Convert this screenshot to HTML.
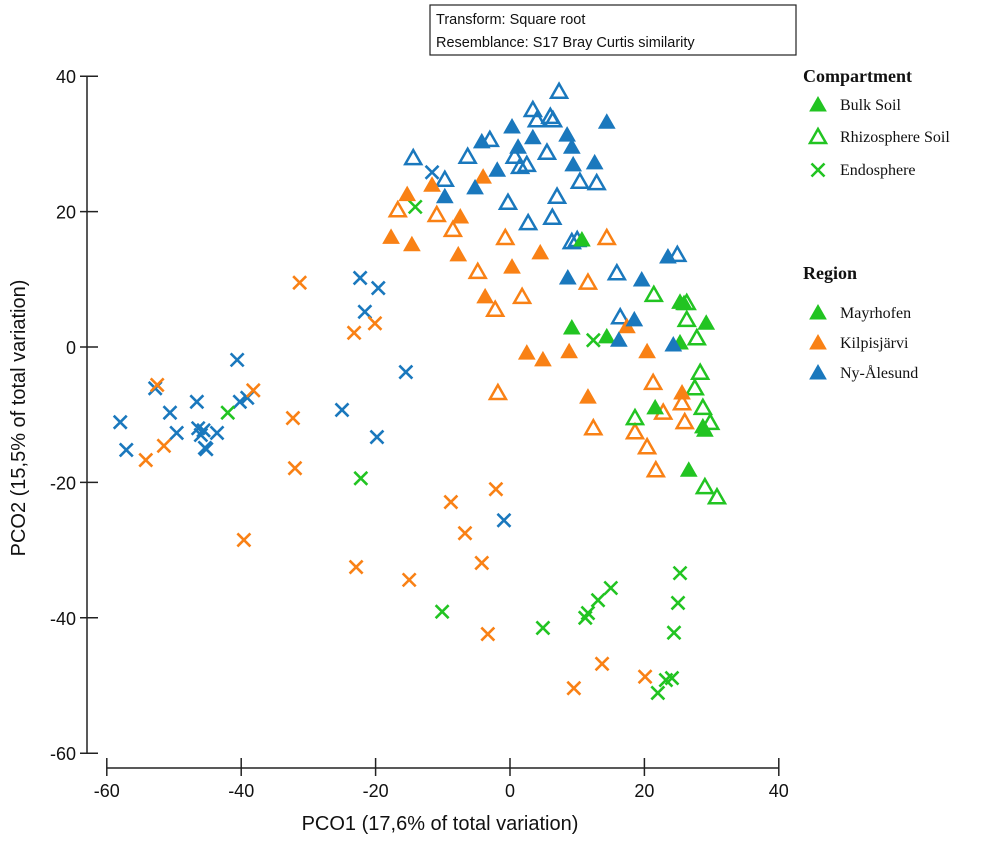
<!DOCTYPE html>
<html><head><meta charset="utf-8">
<style>
body{margin:0;background:#fff;}
svg{display:block;}
.tick{font-family:"Liberation Sans",sans-serif;font-size:18px;fill:#111;}
.leg{font-family:"Liberation Serif",serif;font-size:16px;fill:#111;}
.legh{font-family:"Liberation Serif",serif;font-size:18px;font-weight:bold;fill:#111;}
</style></head>
<body>
<svg id="chart" width="995" height="842" viewBox="0 0 995 842">
<g>
<rect x="430" y="5" width="366" height="50" fill="#fff" stroke="#222" stroke-width="1.2"/>
<text x="436" y="24" font-family="Liberation Sans, sans-serif" font-size="14.5" fill="#111">Transform: Square root</text>
<text x="436" y="47" font-family="Liberation Sans, sans-serif" font-size="14.5" fill="#111">Resemblance: S17 Bray Curtis similarity</text>
</g>
<g id="axes"></g>
<g id="marks"></g>
<text x="440" y="830" text-anchor="middle" font-family="Liberation Sans, sans-serif" font-size="20" fill="#111">PCO1 (17,6% of total variation)</text>
<text transform="translate(25,418) rotate(-90)" text-anchor="middle" font-family="Liberation Sans, sans-serif" font-size="20" fill="#111">PCO2 (15,5% of total variation)</text>
<g id="legend"></g>
</svg>
<script>
const xTicks=[-60,-40,-20,0,20,40];
const yTicks=[40,20,0,-20,-40,-60];
const blueFilled=[[0.3,32.5],[-4.2,30.3],[3.4,30.9],[1.2,29.5],[8.5,31.3],[9.2,29.5],[9.4,26.9],[12.6,27.2],[14.4,33.2],[-1.9,26.1],[-5.2,23.5],[-9.7,22.2],[23.5,13.3],[8.6,10.2],[19.6,9.9],[18.5,4.0],[16.2,1.0],[24.3,0.3]];
const blueOpen=[[7.3,37.7],[3.4,35.0],[6.0,34.0],[4.0,33.5],[6.4,33.5],[-3.0,30.6],[-14.4,27.9],[-6.3,28.1],[0.7,28.1],[2.5,26.9],[1.5,26.6],[5.5,28.7],[10.4,24.4],[12.9,24.2],[7.0,22.2],[-0.3,21.3],[2.7,18.3],[6.3,19.1],[9.2,15.5],[10.0,15.8],[24.9,13.6],[15.9,10.9],[-9.7,24.7],[16.4,4.4]];
const orangeFilled=[[-15.3,22.5],[-11.6,23.9],[-4.0,25.1],[-7.4,19.2],[-17.7,16.2],[-14.6,15.1],[-7.7,13.6],[0.3,11.8],[4.5,13.9],[-3.7,7.4],[2.5,-0.9],[4.9,-1.9],[8.8,-0.7],[20.4,-0.7],[11.6,-7.4],[25.6,-6.8],[17.4,3.0]];
const orangeOpen=[[-16.7,20.2],[-10.9,19.5],[-8.5,17.3],[-0.7,16.1],[14.4,16.1],[-4.8,11.1],[11.6,9.5],[1.8,7.4],[-2.2,5.5],[-1.8,-6.8],[21.3,-5.3],[25.6,-8.3],[22.8,-9.7],[26.0,-11.1],[12.4,-12.0],[18.6,-12.6],[20.4,-14.8],[21.7,-18.2]];
const greenFilled=[[9.2,2.8],[10.7,15.8],[25.3,6.6],[25.9,6.4],[29.2,3.5],[25.3,0.6],[21.6,-9.0],[28.7,-11.8],[29.0,-12.3],[26.6,-18.2],[14.4,1.5]];
const greenOpen=[[21.4,7.7],[26.3,4.0],[27.8,1.3],[28.3,-3.8],[27.5,-6.1],[28.7,-9.0],[29.8,-11.2],[18.6,-10.5],[29.0,-20.7],[30.8,-22.2],[26.3,6.5]];
const greenCross=[[-14.1,20.7],[12.4,1.0],[-22.2,-19.4],[-10.1,-39.1],[4.9,-41.5],[11.2,-40.0],[11.6,-39.3],[13.1,-37.4],[15.0,-35.6],[25.3,-33.4],[25.0,-37.8],[24.4,-42.2],[22.0,-51.1],[23.2,-49.2],[24.1,-48.9],[-42.0,-9.7]];
const orangeCross=[[-32.0,-17.9],[-39.6,-28.5],[-22.9,-32.5],[-15.0,-34.4],[-8.8,-22.9],[-6.7,-27.5],[-4.2,-31.9],[-2.1,-21.0],[-3.3,-42.4],[13.7,-46.8],[9.5,-50.4],[20.1,-48.7],[-54.2,-16.7],[-51.5,-14.6],[-31.3,9.5],[-52.5,-5.6],[-38.2,-6.4],[-32.3,-10.5],[-23.2,2.1],[-20.1,3.5]];
const blueCross=[[-57.1,-15.2],[-45.2,-15.1],[-0.9,-25.6],[-40.6,-1.9],[-58.0,-11.1],[-52.8,-6.1],[-50.6,-9.7],[-49.6,-12.7],[-46.6,-8.1],[-46.4,-12.0],[-45.4,-14.9],[-43.6,-12.7],[-40.2,-8.1],[-39.1,-7.5],[-25.0,-9.3],[-22.3,10.2],[-19.6,8.7],[-21.6,5.2],[-15.5,-3.7],[-19.8,-13.3],[-11.6,25.8],[-46.0,-13.0],[-45.6,-12.3]];

const NS='http://www.w3.org/2000/svg';
function X(v){return 510+v*6.72;}
function Y(v){return 347-v*6.77;}
const BLUE='#1a78bd',ORANGE='#f98115',GREEN='#22c422';
function mk(tag,attrs,parent){const e=document.createElementNS(NS,tag);for(const k in attrs)e.setAttribute(k,attrs[k]);parent.appendChild(e);return e;}
const axes=document.getElementById('axes');
let l=mk('line',{x1:87,y1:Y(40),x2:87,y2:Y(-60),stroke:'#222','stroke-width':1.5},axes);


l=mk('line',{x1:X(-60),y1:768,x2:X(40),y2:768,stroke:'#222','stroke-width':1.5},axes);


yTicks.forEach(v=>{
 const t=mk('line',{x1:80,y1:Y(v),x2:98,y2:Y(v),stroke:'#222','stroke-width':1.5},axes);
 
 
 const tx=mk('text',{x:76,y:Y(v)+7,'text-anchor':'end',class:'tick'},axes);tx.textContent=v;
 
 
});
xTicks.forEach(v=>{
 const t=mk('line',{x1:X(v),y1:758,x2:X(v),y2:776,stroke:'#222','stroke-width':1.5},axes);
 
 
 const tx=mk('text',{x:X(v),y:797,'text-anchor':'middle',class:'tick'},axes);tx.textContent=v;
 
 
});
function tri(cx,cy,col,filled,parent){
 const s=8;
 return mk('polygon',{points:`${cx-s},${cy+6} ${cx+s},${cy+6} ${cx},${cy-8}`,fill:filled?col:'#fff','fill-opacity':filled?1:0,stroke:col,'stroke-width':filled?1:2.5,'stroke-linejoin':'miter'},parent);
}
function cross(cx,cy,col,parent){
 const s=6.5;
 return mk('path',{d:`M${cx-s},${cy-s}L${cx+s},${cy+s}M${cx-s},${cy+s}L${cx+s},${cy-s}`,stroke:col,'stroke-width':2.6,fill:'none'},parent);
}
const marks=document.getElementById('marks');
[[blueCross,BLUE],[orangeCross,ORANGE],[greenCross,GREEN]].forEach(([arr,c])=>arr.forEach(p=>{
 const e=cross(X(p[0]),Y(p[1]),c,marks);
 
 
}));
[[orangeOpen,ORANGE],[greenOpen,GREEN],[blueOpen,BLUE]].forEach(([arr,c])=>arr.forEach(p=>{
 const e=tri(X(p[0]),Y(p[1]),c,false,marks);
 
 
}));
[[orangeFilled,ORANGE],[greenFilled,GREEN],[blueFilled,BLUE]].forEach(([arr,c])=>arr.forEach(p=>{
 const e=tri(X(p[0]),Y(p[1]),c,true,marks);
 
 
}));
const lg=document.getElementById('legend');
let h=mk('text',{x:803,y:82,class:'legh'},lg);h.textContent='Compartment';


const items=[['Bulk Soil','f',GREEN,110],['Rhizosphere Soil','o',GREEN,142],['Endosphere','x',GREEN,175],['Mayrhofen','f',GREEN,318],['Kilpisjärvi','f',ORANGE,348],['Ny-Ålesund','f',BLUE,378]];
h=mk('text',{x:803,y:279,class:'legh'},lg);h.textContent='Region';


items.forEach(([t,k,c,y])=>{
 if(k==='x')cross(818,y-5,c,lg);else tri(818,y-5,c,k==='f',lg);
 const e=mk('text',{x:840,y:y,class:'leg'},lg);e.textContent=t;
 
 
});
</script>
</body></html>
